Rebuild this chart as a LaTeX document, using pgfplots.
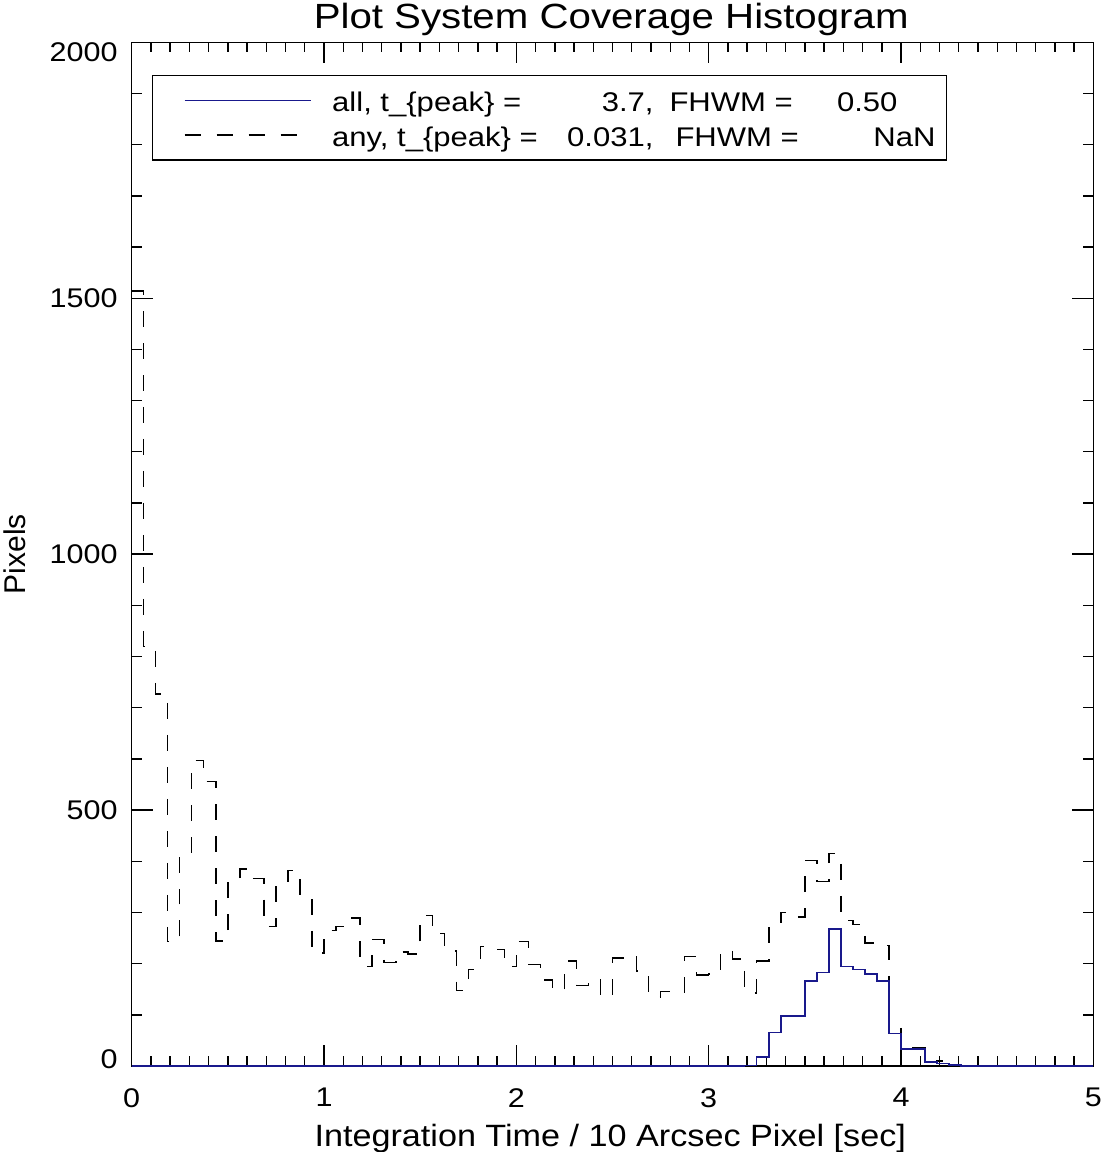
\documentclass[border=0pt]{standalone}
\usepackage{fontspec}
\setmainfont{Liberation Sans}
\usepackage{graphicx}
\usepackage{pgfplots}
\usepackage{pgfplotstable}
\pgfplotsset{compat=1.18}
\definecolor{idlblue}{RGB}{25,25,140}
\newcommand{\hs}[2]{\scalebox{#1}[1]{#2}}
\pgfplotstableread{
x any all
0 1514 0
0.0625 820 0
0.125 727 0
0.1875 243 0
0.25 415 0
0.3125 597 0
0.375 556 0
0.4375 244 0
0.5 358 0
0.5625 385 0
0.625 366 0
0.6875 272 0
0.75 358 0
0.8125 382 0
0.875 333 0
0.9375 221 0
1.0 265 0
1.0625 272 0
1.125 289 0
1.1875 195 0
1.25 247 0
1.3125 202 0
1.375 223 0
1.4375 219 0
1.5 294 0
1.5625 259 0
1.625 225 0
1.6875 148 0
1.75 189 0
1.8125 233 0
1.875 228 0
1.9375 194 0
2.0 243 0
2.0625 198 0
2.125 168 0
2.1875 147 0
2.25 205 0
2.3125 157 0
2.375 170 0
2.4375 135 0
2.5 211 0
2.5625 216 0
2.625 186 0
2.6875 135 0
2.75 146 0
2.8125 143 0
2.875 214 0
2.9375 178 0
3.0 180 0
3.0625 226 0
3.125 209 0
3.1875 143 1
3.25 205 18
3.3125 274 65
3.375 300 98
3.4375 291 98
3.5 402 166
3.5625 360 183
3.625 415 268
3.6875 284 195
3.75 276 188
3.8125 240 180
3.875 235 166
3.9375 85 63
4.0 33 33
4.0625 36 33
4.125 8 8
4.1875 10 5
4.25 2 2
4.3125 0 0
5.0 0 0
}\histdata
\newcommand{\lgfont}{\fontsize{13.5}{16}\selectfont}
\newcommand{\lgt}[1]{\hs{1.15}{#1}}
\newcommand{\tkl}[1]{\hs{1.13}{#1}}
\begin{document}
\begin{tikzpicture}
\begin{axis}[
  at={(0pt,0pt)}, anchor=south west,
  scale only axis, width=481pt, height=512pt,
  xmin=0, xmax=5, ymin=0, ymax=2000,
  clip=false,
  axis line style={line width=0.7pt},
  xtick={0,1,2,3,4,5}, xticklabels={\tkl{0},\tkl{1},\tkl{2},\tkl{3},\tkl{4},\tkl{5}},
  ytick={0,500,1000,1500,2000},
  yticklabels={\raisebox{3.5pt}[\height][\depth]{\tkl{0}},\tkl{500},\tkl{1000},\tkl{1500},\raisebox{-5pt}[\height][\depth]{\tkl{2000}}},
  minor x tick num=9, minor y tick num=4,
  tick align=inside, major tick length=10.5pt, minor tick length=5pt,
  every tick/.style={black, line width=0.7pt},
  tick label style={font=\fontsize{13.5}{16}\selectfont, inner sep=0pt},
  xticklabel style={anchor=north, yshift=-11pt},
  yticklabel style={anchor=east, xshift=-6.85pt},
  title={\hs{1.15}{Plot System Coverage Histogram}},
  every axis title/.style={at={(axis description cs:0.4986,1)}, anchor=base, yshift=6.65pt, font=\fontsize{17.5}{20}\selectfont, inner sep=0pt},
  xlabel={\hs{1.11}{Integration Time / 10 Arcsec Pixel [sec]}},
  every axis x label/.style={at={(axis description cs:0.4976,0)}, anchor=base, yshift=-40pt, inner sep=0pt, font=\fontsize{15.4}{18}\selectfont},
  ylabel={Pixels},
  every axis y label/.style={at={(axis description cs:-0.1109,0.5)}, rotate=90, anchor=base, inner sep=0pt, font=\fontsize{15}{18}\selectfont},
  legend image code/.code={\path[draw=none,fill=none] (0pt,0pt) (89.7pt,0pt); \draw[#1] (15.9pt,0pt) -- (79pt,0pt);},
  legend style={at={(axis description cs:0.02143,0.96806)}, anchor=north west, draw=black, line width=0.6pt, fill=white, inner xsep=0pt, inner ysep=3.9pt, row sep=0pt, column sep=0pt, nodes={inner sep=0pt, text depth=3pt, text height=14.2pt}, font=\lgfont},
  legend cell align=left,
]
\addplot[black, line width=0.7pt, dash pattern=on 8pt off 8pt, const plot, forget plot] table[x=x,y=any]{\histdata};
\addplot[idlblue, line width=0.7pt, const plot, forget plot] table[x=x,y=all]{\histdata};
\addlegendimage{idlblue, line width=0.7pt}
\addlegendentry{\makebox[307.2pt][l]{\hbox to 160.7pt{\lgt{all, t\_\{peak\} =}\hfill\lgt{3.7,}}\hbox to 122pt{\hspace{8pt}\lgt{FHWM =}\hfill\lgt{0.50}}}}
\addlegendimage{black, line width=0.7pt, dash pattern=on 8pt off 8pt}
\addlegendentry{\makebox[307.2pt][l]{\hbox to 160.7pt{\lgt{any, t\_\{peak\} =}\hfill\lgt{0.031,}}\hbox to 141pt{\hspace{11pt}\lgt{FHWM =}\hfill\lgt{NaN}}}}
\end{axis}
\pgfresetboundingbox
\path[use as bounding box] (-65.85pt,-43pt) rectangle (486pt,533.15pt);
\end{tikzpicture}
\end{document}
